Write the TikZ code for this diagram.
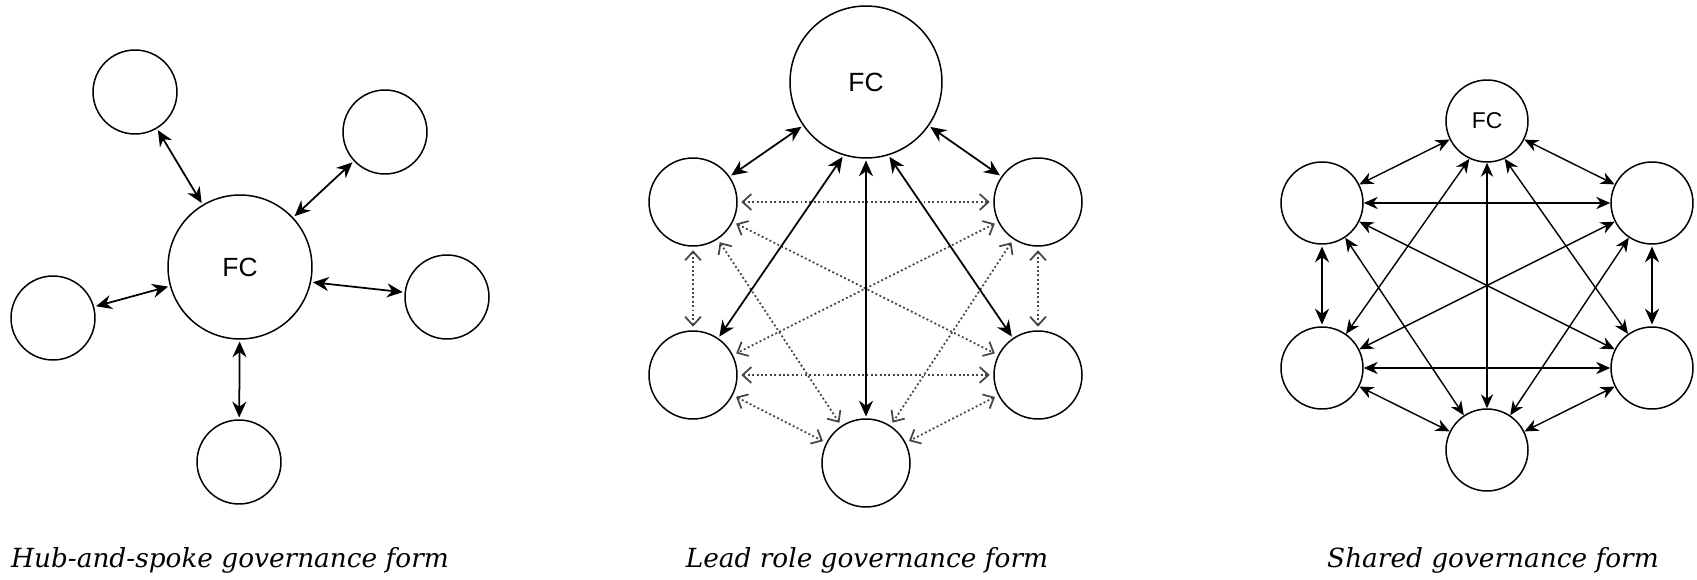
\documentclass[tikz,border=0pt]{standalone}
\usepackage{fontspec}
\setmainfont{DejaVu Serif}
\newfontfamily\fcfont{Liberation Sans}
\usepackage{tikz}
\usetikzlibrary{arrows.meta}
\definecolor{dotgray}{RGB}{70,70,70}
\tikzstyle{unit} = [circle, draw, line width=0.85pt, minimum size=1.68cm, inner sep=0pt, font=\fcfont\fontsize{15}{18}\selectfont]
\tikzstyle{link} = [line width=1pt, {Stealth[length=9pt,width=8pt]}-{Stealth[length=9pt,width=8pt]}, shorten <=1pt, shorten >=1pt]
\tikzstyle{thinlink} = [line width=0.8pt, {Stealth[length=8pt,width=7pt]}-{Stealth[length=8pt,width=7pt]}]
\tikzstyle{dotlink} = [line width=1pt, dotgray, dash pattern=on 1.1pt off 1.4pt, {Straight Barb[length=5pt,width=9pt]}-{Straight Barb[length=5pt,width=9pt]}, shorten <=2pt, shorten >=2pt]
\tikzstyle{caption} = [anchor=base, font=\fontsize{15}{18}\selectfont\itshape]

\begin{document}
\begin{tikzpicture}[x=0.02cm, y=-0.02cm]
\useasboundingbox (0,0) rectangle (1697,580);

% Hub-and-spoke
\node (fcA) [unit, minimum size=2.88cm] at (240,267) {FC};
\node (tlA) [unit] at (135,92) {};
\node (trA) [unit] at (385,132) {};
\node (lA) [unit] at (53,318) {};
\node (rA) [unit] at (447,297) {};
\node (bA) [unit] at (239,462) {};

\draw[link] (fcA) -- (tlA);
\draw[link] (fcA) -- (trA);
\draw[link] (fcA) -- (lA);
\draw[link] (fcA.-12) -- (rA);
\draw[link] (fcA) -- (bA);

% Lead role
\node (fcB) [unit, minimum size=3.04cm] at (866,82) {FC};
\node (ulB) [unit, minimum size=1.76cm] at (693,202) {};
\node (urB) [unit, minimum size=1.76cm] at (1038,202) {};
\node (llB) [unit, minimum size=1.76cm] at (693,375) {};
\node (lrB) [unit, minimum size=1.76cm] at (1038,375) {};
\node (bB) [unit, minimum size=1.76cm] at (866,463) {};

\draw[dotlink] (ulB) -- (urB);
\draw[dotlink] (llB) -- (lrB);
\draw[dotlink] (ulB) -- (llB);
\draw[dotlink] (urB) -- (lrB);
\draw[dotlink] (ulB) -- (lrB);
\draw[dotlink] (urB) -- (llB);
\draw[dotlink] (ulB) -- (bB);
\draw[dotlink] (urB) -- (bB);
\draw[dotlink] (llB) -- (bB);
\draw[dotlink] (lrB) -- (bB);

\draw[link] (fcB) -- (ulB);
\draw[link] (fcB) -- (urB);
\draw[link] (fcB.253) -- (llB);
\draw[link] (fcB.287) -- (lrB);
\draw[link] (fcB) -- (bB);

% Shared
\node (fcC) [unit, minimum size=1.64cm, font=\fcfont\fontsize{13}{16}\selectfont] at (1487,121) {FC};
\node (ulC) [unit, minimum size=1.64cm] at (1322,203) {};
\node (urC) [unit, minimum size=1.64cm] at (1652,203) {};
\node (llC) [unit, minimum size=1.64cm] at (1322,368) {};
\node (lrC) [unit, minimum size=1.64cm] at (1652,368) {};
\node (bC) [unit, minimum size=1.64cm] at (1487,450) {};

\draw[thinlink] (fcC) -- (ulC);
\draw[thinlink] (fcC) -- (urC);
\draw[thinlink] (fcC.245) -- (llC);
\draw[thinlink] (fcC.295) -- (lrC);
\draw[thinlink] (fcC) -- (bC);
\draw[thinlink] (ulC) -- (urC);
\draw[thinlink] (llC) -- (lrC);
\draw[link] (ulC) -- (llC);
\draw[link] (urC) -- (lrC);
\draw[thinlink] (ulC) -- (lrC);
\draw[thinlink] (urC) -- (llC);
\draw[thinlink] (ulC) -- (bC);
\draw[thinlink] (urC) -- (bC);
\draw[thinlink] (llC) -- (bC);
\draw[thinlink] (lrC) -- (bC);

% Captions
\node (capA) [caption] at (230,567) {Hub-and-spoke governance form};
\node (capB) [caption] at (867,567) {Lead role governance form};
\node (capC) [caption] at (1493,567) {Shared governance form};
\end{tikzpicture}
\end{document}
